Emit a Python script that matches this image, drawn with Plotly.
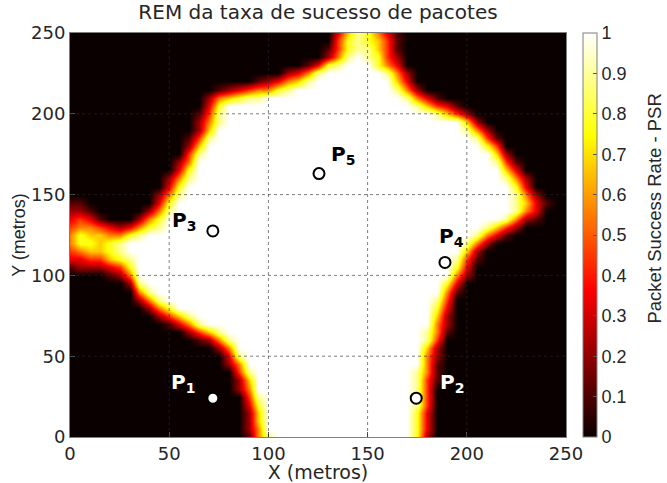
import plotly.graph_objects as go

# ---------------- data ----------------
# PSR map sampled every 5 m (rows: y = 0..250, columns: x = 0..250), digit d -> PSR = d/9
grid_x = list(range(0, 251, 5))
grid_y = list(range(0, 251, 5))
psr_rows = [
    "0000000000 0000000015 8999999999 9999972000 0000000000 0",  # y=0
    "0000000000 0000000025 9999999999 9999973000 0000000000 0",  # 5
    "0000000000 0000000026 9999999999 9999973000 0000000000 0",  # 10
    "0000000000 0000000026 9999999999 9999973000 0000000000 0",  # 15
    "0000000000 0000000037 9999999999 9999984000 0000000000 0",  # 20
    "0000000000 0000000048 9999999999 9999984000 0000000000 0",  # 25
    "0000000000 0000000259 9999999999 9999984000 0000000000 0",  # 30
    "0000000000 0000000269 9999999999 9999984100 0000000000 0",  # 35
    "0000000000 0000000489 9999999999 9999985100 0000000000 0",  # 40
    "0000000000 0000002599 9999999999 9999995100 0000000000 0",  # 45
    "0000000000 0000003899 9999999999 9999995200 0000000000 0",  # 50
    "0000000000 0000025999 9999999999 9999996200 0000000000 0",  # 55
    "0000000000 0001258999 9999999999 9999998400 0000000000 0",  # 60
    "0000000000 0024689999 9999999999 9999998510 0000000000 0",  # 65
    "0000000000 1358999999 9999999999 9999999520 0000000000 0",  # 70
    "0000000002 4689999999 9999999999 9999999620 0000000000 0",  # 75
    "0000000025 7999999999 9999999999 9999999730 0000000000 0",  # 80
    "0000000258 9999999999 9999999999 9999999840 0000000000 0",  # 85
    "0000000589 9999999999 9999999999 9999999951 0000000000 0",  # 90
    "0000002899 9999999999 9999999999 9999999973 0000000000 0",  # 95
    "0000125999 9999999999 9999999999 9999999995 2000000000 0",  # 100
    "1222347999 9999999999 9999999999 9999999997 3000000000 0",  # 105
    "3344678999 9999999999 9999999999 9999999998 4100000000 0",  # 110
    "4566789999 9999999999 9999999999 9999999999 6200000000 0",  # 115
    "5776789999 9999999999 9999999999 9999999999 8520000000 0",  # 120
    "5766557899 9999999999 9999999999 9999999999 9853100000 0",  # 125
    "4554323578 9999999999 9999999999 9999999999 9986420000 0",  # 130
    "3431000257 9999999999 9999999999 9999999999 9999852100 0",  # 135
    "2210000025 8999999999 9999999999 9999999999 9999985300 0",  # 140
    "1100000003 7999999999 9999999999 9999999999 9999986310 0",  # 145
    "0000000002 5899999999 9999999999 9999999999 9999985200 0",  # 150
    "0000000000 3799999999 9999999999 9999999999 9999973000 0",  # 155
    "0000000000 2589999999 9999999999 9999999999 9999852000 0",  # 160
    "0000000000 0379999999 9999999999 9999999999 9999630000 0",  # 165
    "0000000000 0259999999 9999999999 9999999999 9998410000 0",  # 170
    "0000000000 0048999999 9999999999 9999999999 9996200000 0",  # 175
    "0000000000 0026999999 9999999999 9999999999 9974000000 0",  # 180
    "0000000000 0014899999 9999999999 9999999999 9841000000 0",  # 185
    "0000000000 0002699999 9999999999 9999999999 8520000000 0",  # 190
    "0000000000 0002589999 9999999999 9999999999 6200000000 0",  # 195
    "0000000000 0001489999 9999999999 9999999864 2000000000 0",  # 200
    "0000000000 0000379999 9999999999 9999986431 0000000000 0",  # 205
    "0000000000 0000256788 9999999999 9999853100 0000000000 0",  # 210
    "0000000000 0000012345 5789999999 9998520000 0000000000 0",  # 215
    "0000000000 0000000001 2356899999 9996300000 0000000000 0",  # 220
    "0000000000 0000000000 0023589999 9985200000 0000000000 0",  # 225
    "0000000000 0000000000 0000137899 9753000000 0000000000 0",  # 230
    "0000000000 0000000000 0000002589 8742000000 0000000000 0",  # 235
    "0000000000 0000000000 0000001478 8641000000 0000000000 0",  # 240
    "0000000000 0000000000 0000000478 7641000000 0000000000 0",  # 245
    "0000000000 0000000000 0000000368 7531000000 0000000000 0",  # 250
]

point_ids = ["1", "2", "3", "4", "5"]
point_x = [72, 174.5, 72, 189, 125.5]
point_y = [24, 24, 127.5, 108, 163]

axis_ticks = [0, 50, 100, 150, 200, 250]
grid_ticks = [50, 100, 150, 200]
cbar_ticks = [0, 0.1, 0.2, 0.3, 0.4, 0.5, 0.6, 0.7, 0.8, 0.9, 1]

# ---------------- style ----------------
label_style = {
    "1": dict(dx=-30, dy=15, color="white"),
    "2": dict(dx=36, dy=15, color="white"),
    "3": dict(dx=-29, dy=10, color="black"),
    "4": dict(dx=7, dy=25, color="black"),
    "5": dict(dx=24, dy=19, color="black"),
}
hot = [
    [0.0, "rgb(11,0,0)"],
    [0.365, "rgb(255,0,0)"],
    [0.746, "rgb(255,255,0)"],
    [1.0, "rgb(255,255,255)"],
]
FONT = "DejaVu Sans"
FONT_V = "Liberation Sans"
TXT = "#262626"
GRID = "rgba(40,40,40,0.6)"

z = []
for r in psr_rows:
    s = r.replace(" ", "")
    assert len(s) == len(grid_x), (r, len(s))
    z.append([int(c) / 9 for c in s])
assert len(z) == len(grid_y)

fig = go.Figure()
fig.add_trace(go.Heatmap(
    x=grid_x, y=grid_y, z=z, zmin=0, zmax=1, zsmooth="best",
    colorscale=hot, showscale=True,
    colorbar=dict(
        x=1.034, xanchor="left", xref="paper", y=0.5, yanchor="middle",
        len=1, lenmode="fraction", thickness=14, xpad=0, ypad=0,
        tickvals=cbar_ticks, ticks="inside", ticklen=4, tickcolor="#555",
        outlinecolor="#7f7f7f", outlinewidth=1,
        tickfont=dict(family=FONT_V, size=18, color=TXT),
    ),
    hoverinfo="skip",
))

fig.add_trace(go.Scatter(
    x=point_x, y=point_y, mode="markers",
    marker=dict(size=11, color="white", line=dict(color="black", width=2)),
    showlegend=False, hoverinfo="skip",
))

for pid, px, py in zip(point_ids, point_x, point_y):
    st = label_style[pid]
    fig.add_annotation(
        x=px, y=py, xref="x", yref="y", showarrow=False,
        text=f"<b>P<sub>{pid}</sub></b>", xshift=st["dx"], yshift=st["dy"],
        font=dict(family=FONT, size=20, color=st["color"]),
    )

# colour bar label
fig.add_annotation(
    xref="paper", yref="paper", x=1.179, y=0.565, xanchor="center", yanchor="middle",
    text="Packet Success Rate - PSR", textangle=-90, showarrow=False,
    font=dict(family=FONT_V, size=18.5, color=TXT),
)

shapes = []
for v in grid_ticks:
    shapes.append(dict(type="line", xref="x", yref="y", x0=v, x1=v, y0=axis_ticks[0], y1=axis_ticks[-1],
                       line=dict(color=GRID, width=1, dash="dot"), layer="above"))
    shapes.append(dict(type="line", xref="x", yref="y", y0=v, y1=v, x0=axis_ticks[0], x1=axis_ticks[-1],
                       line=dict(color=GRID, width=1, dash="dot"), layer="above"))

axis_common = dict(
    tickvals=axis_ticks, ticks="inside", ticklen=5, tickcolor="#555",
    showline=True, mirror=True, linecolor="#7f7f7f", linewidth=1,
    showgrid=False, zeroline=False, automargin=False,
    tickfont=dict(family=FONT, size=18, color=TXT),
    range=[axis_ticks[0], axis_ticks[-1]],
)

fig.update_layout(
    width=667, height=483,
    margin=dict(l=70, r=101, t=33, b=46, autoexpand=False),
    paper_bgcolor="white", plot_bgcolor="black",
    font=dict(family=FONT, size=18, color=TXT),
    title=dict(text="REM da taxa de sucesso de pacotes", x=0.5, xref="paper",
               y=1 - 12 / 483, yref="container", yanchor="middle",
               font=dict(family=FONT, size=20, color=TXT)),
    xaxis=dict(**axis_common, title=dict(text="X (metros)", standoff=5,
                                        font=dict(family=FONT, size=19, color=TXT))),
    yaxis=dict(**axis_common, title=dict(text="Y (metros)", standoff=0,
                                        font=dict(family=FONT_V, size=18, color=TXT))),
    shapes=shapes,
    showlegend=False,
)

fig.write_html("out.html")
